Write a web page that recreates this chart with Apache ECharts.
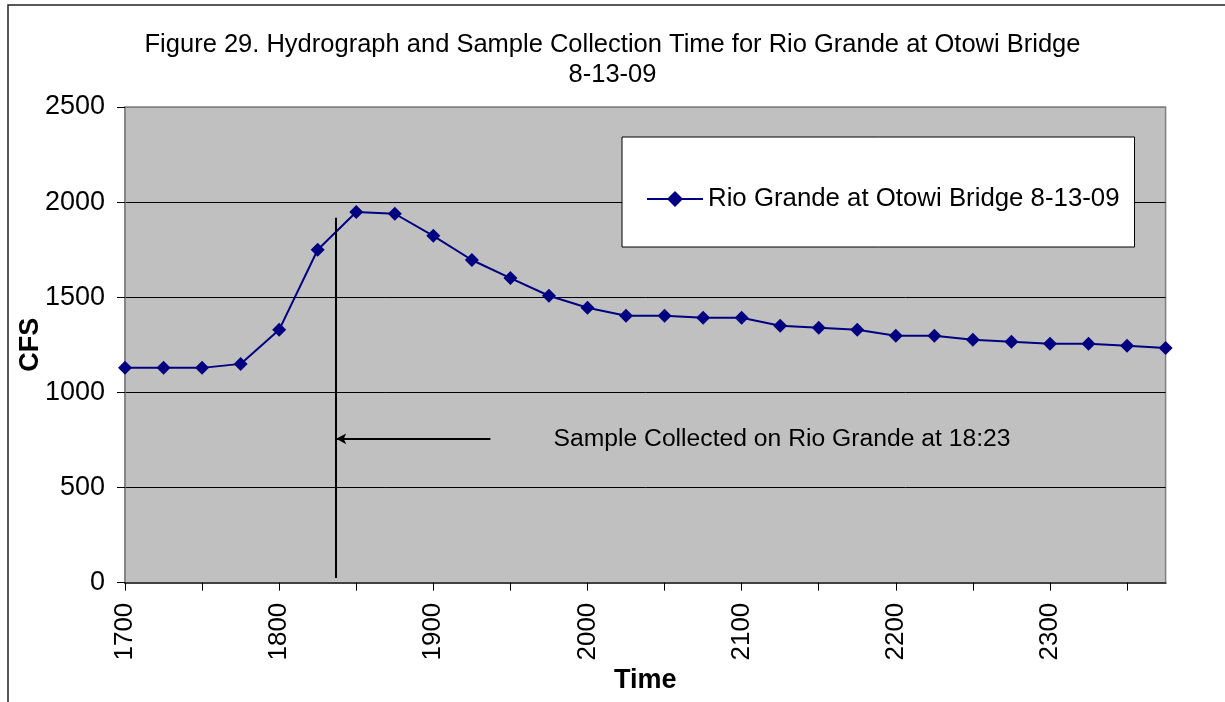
<!DOCTYPE html>
<html>
<head>
<meta charset="utf-8">
<script src="https://cdn.jsdelivr.net/npm/echarts@6/dist/echarts.min.js"></script>
<style>
html,body{margin:0;padding:0;background:#fff;}
#chart{width:1225px;height:702px;}
</style>
</head>
<body>
<div id="chart"></div>
<script>
// ---- data ----
const times = [1700,1725,1750,1775,1800,1825,1850,1875,1900,1925,1950,1975,2000,2025,2050,2075,2100,2125,2150,2175,2200,2225,2250,2275,2300,2325,2350,2375];
const cfs = [1129,1129,1129,1150,1329,1750,1948,1939,1823,1696,1601,1508,1445,1403,1403,1392,1392,1350,1340,1329,1298,1298,1277,1266,1256,1256,1245,1234];
const seriesName = 'Rio Grande at Otowi Bridge 8-13-09';
const titleLines = ['Figure 29. Hydrograph and Sample Collection Time for Rio Grande at Otowi Bridge', '8-13-09'];
const sampleLabel = 'Sample Collected on Rio Grande at 18:23';
const xTickValues = [1700,1750,1800,1850,1900,1950,2000,2050,2100,2150,2200,2250,2300,2350];
const xLabelValues = [1700,1800,1900,2000,2100,2200,2300];
const yTicks = [0, 500, 1000, 1500, 2000, 2500];
const sampleX = 1836.5;      // vertical marker position on the time axis
const sampleLineY = [25, 1918];
const arrowFromX = 1937;
const arrowY = 756;
const labelX = 1976;

const FONT = "'Liberation Sans', Arial, sans-serif";
const chart = echarts.init(document.getElementById('chart'));
const option = {
  backgroundColor: '#ffffff',
  animation: false,
  textStyle: { fontFamily: FONT, color: '#000' },
  title: {
    text: titleLines.join('\n'),
    left: 'center',
    top: 30,
    padding: 0,
    textStyle: { fontFamily: FONT, fontSize: 25.5, fontWeight: 'normal', lineHeight: 30, color: '#000' }
  },
  graphic: [{
    type: 'rect', silent: true, z: -1,
    shape: { x: 8, y: 5, width: 1300, height: 800 },
    style: { fill: 'none', stroke: '#222', lineWidth: 1.5 }
  }],
  legend: {
    left: 622, top: 137,
    orient: 'horizontal',
    padding: [47, 15, 33, 24],
    backgroundColor: '#fff',
    borderColor: '#000',
    borderWidth: 1,
    itemWidth: 56, itemHeight: 20, itemGap: 5,
    textStyle: { fontFamily: FONT, fontSize: 25.8, lineHeight: 30, color: '#000' },
    data: [seriesName]
  },
  grid: {
    left: 125, top: 107, right: 59.4, bottom: 119.3,
    show: true, backgroundColor: '#C0C0C0', borderColor: '#808080', borderWidth: 1.5
  },
  xAxis: {
    type: 'value', min: 1700, max: 2375, interval: 25,
    name: 'Time', nameLocation: 'middle', nameGap: 84, nameMoveOverlap: false,
    nameTextStyle: { fontFamily: FONT, fontSize: 27, fontWeight: 'bold', color: '#000' },
    axisLine: { show: true, onZero: false, lineStyle: { color: '#404040', width: 2 } },
    axisTick: { show: true, length: 8, customValues: xTickValues, lineStyle: { color: '#000', width: 1 } },
    axisLabel: {
      rotate: 90, margin: 20, fontSize: 26, color: '#000', fontFamily: FONT,
      customValues: xLabelValues,
      formatter: v => String(v)
    },
    splitLine: { show: false }
  },
  yAxis: {
    type: 'value', min: 0, max: 2500, interval: 500,
    name: 'CFS', nameLocation: 'middle', nameGap: 81, nameMoveOverlap: false,
    nameTextStyle: { fontFamily: FONT, fontSize: 27, fontWeight: 'bold', color: '#000' },
    axisLine: { show: true, lineStyle: { color: '#808080', width: 1.5 } },
    axisTick: { show: true, length: 8, lineStyle: { color: '#000', width: 1 } },
    axisLabel: { margin: 20, fontSize: 27, color: '#000', fontFamily: FONT,
      formatter: v => yTicks.includes(v) ? String(v) : '' },
    splitLine: { show: true, lineStyle: { color: ['#404040', '#000', '#000', '#000', '#000', '#808080'], width: 1 } }
  },
  series: [{
    name: seriesName,
    type: 'line',
    data: times.map((t, i) => [t, cfs[i]]),
    symbol: 'diamond',
    symbolSize: 14,
    showSymbol: true,
    itemStyle: { color: '#000080' },
    lineStyle: { color: '#000080', width: 2 },
    markLine: {
      silent: true,
      animation: false,
      symbol: ['none', 'none'],
      label: { show: false },
      lineStyle: { color: '#000', width: 2, type: 'solid' },
      data: [
        [ { coord: [sampleX, sampleLineY[0]] }, { coord: [sampleX, sampleLineY[1]] } ],
        [ { coord: [arrowFromX, arrowY], symbol: 'none' },
          { coord: [sampleX + 0.5, arrowY], symbol: 'arrow', symbolSize: [8, 10] } ]
      ]
    },
    markPoint: {
      silent: true,
      data: [{
        coord: [labelX, arrowY], symbol: 'circle', symbolSize: 0,
        label: { show: true, position: 'right', distance: 3, formatter: sampleLabel,
          fontFamily: FONT, fontSize: 24.7, color: '#000' }
      }]
    }
  }]
};
chart.setOption(option);
</script>
</body>
</html>
